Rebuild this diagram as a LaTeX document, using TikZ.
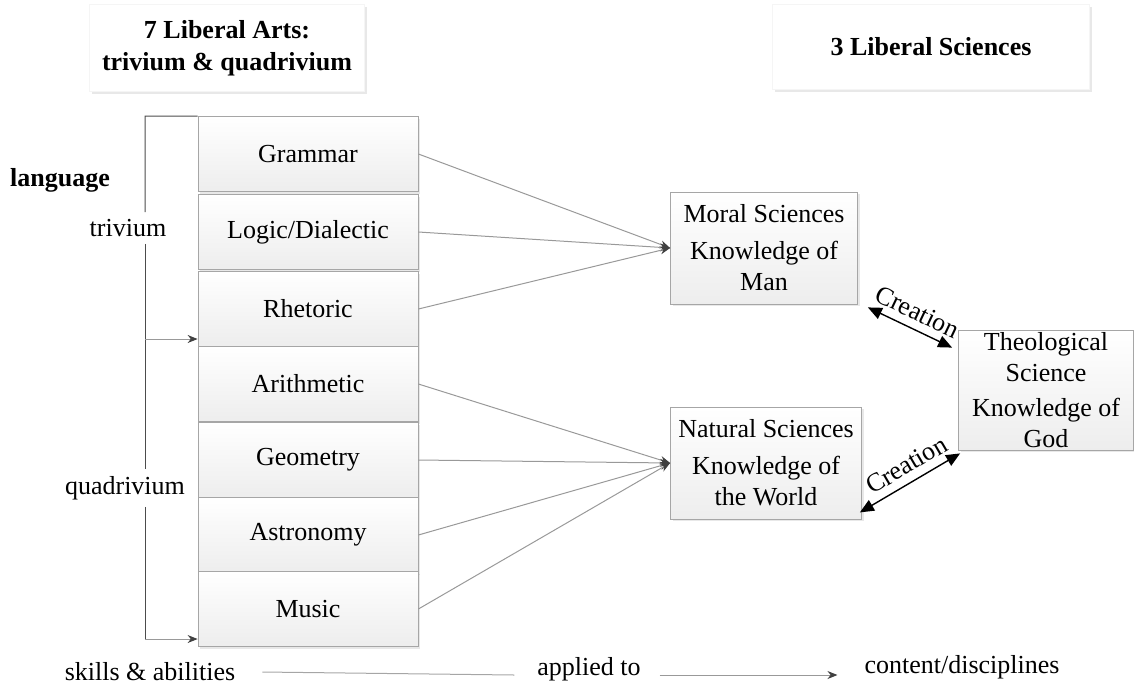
\documentclass[tikz,border=0pt]{standalone}
\usepackage{fontspec}
\setmainfont{Liberation Serif}
\usetikzlibrary{arrows.meta, positioning, shadows}

\begin{document}
\begin{tikzpicture}[
    x=0.5pt, y=-0.5pt,
    every node/.style={font=\fontsize{13}{15.5}\selectfont},
    softshadow/.style={drop shadow={opacity=0.18, shadow xshift=1.2pt, shadow yshift=-1.2pt}},
    artbox/.style={
        rectangle, draw=gray!70, top color=white, bottom color=gray!14,
        minimum width=110pt, minimum height=37.5pt, inner sep=0pt,
        text centered, softshadow
    },
    scibox/.style={
        rectangle, draw=gray!70, top color=white, bottom color=gray!14,
        align=center, inner sep=1pt, softshadow
    },
    headbox/.style={
        rectangle, draw=gray!8, fill=white, align=center,
        font=\fontsize{13}{16}\selectfont\bfseries, softshadow
    },
    feed/.style={draw=gray!80, line width=0.5pt, -{Stealth[length=5pt, width=4pt, color=gray!50!black]}},
    bracket/.style={draw=gray!60!black, line width=0.5pt},
    creat/.style={draw=black, line width=0.7pt, {Triangle[length=7pt, width=6pt]}-{Triangle[length=7pt, width=6pt]}},
]

% ---- fixed frame ----
\useasboundingbox (0,0) rectangle (1134,686);

% ---- headings ----
\node[headbox, minimum width=137.5pt, minimum height=43.5pt] (arts) at (227,48)
      {7 Liberal Arts:\\trivium \& quadrivium};
\node[headbox, minimum width=158.5pt, minimum height=42.5pt] (sci) at (931,47)
      {3 Liberal Sciences};

% ---- the seven arts ----
\node[artbox] (gram)  at (308,154) {Grammar};
\node[artbox] (logic) at (308,232) {Logic/Dialectic};
\node[artbox] (rhet)  at (308,309) {Rhetoric};
\node[artbox] (arith) at (308,384) {Arithmetic};
\node[artbox] (geom)  at (308,460) {Geometry};
\node[artbox] (astro) at (308,535) {Astronomy};
\node[artbox] (music) at (308,609) {Music};

% ---- the sciences ----
\node[scibox, minimum width=93.5pt, minimum height=56pt] (moral) at (764,248)
      {Moral Sciences\\[3pt]Knowledge of\\Man};
\node[scibox, minimum width=95.5pt, minimum height=56pt] (natural) at (766,463)
      {Natural Sciences\\[3pt]Knowledge of\\the World};
\node[scibox, minimum width=87.5pt, minimum height=60pt] (theo) at (1046,390)
      {Theological\\Science\\[2pt]Knowledge of\\God};

% ---- left bracket ----
\node[font=\fontsize{13}{15.5}\selectfont\bfseries] (lang) at (60,180) {language};
\node (triv)  at (128,228) {trivium};
\node (quadr) at (125,488) {quadrivium};
\coordinate (brtop) at (145,116);
\coordinate (brmid) at (145,339);
\coordinate (brbot) at (145,639);
\draw[bracket] (gram.north west) -- (brtop) -- (triv.north -| brtop);
\draw[bracket] (triv.south -| brtop) -- (quadr.north -| brtop);
\draw[bracket] (quadr.south -| brtop) -- (brbot);
\draw[feed] (brmid) -- (brmid -| rhet.west);
\draw[feed] (brbot) -- (brbot -| music.west);

% ---- arts feed the sciences ----
\foreach \a in {gram, logic, rhet}
    \draw[feed] (\a.east) -- (moral.west);
\foreach \a in {arith, geom, astro, music}
    \draw[feed] (\a.east) -- (natural.west);

% ---- creation ----
\draw[creat] ([xshift=5pt, yshift=-1.5pt]moral.south east)
      -- node[above=4pt, sloped, inner sep=0pt] {Creation}
      ([xshift=-3pt, yshift=-9pt]theo.north west);
\draw[creat] ([xshift=-1pt, yshift=3.5pt]natural.south east)
      -- node[above=4pt, sloped, inner sep=0pt, xshift=3pt] {Creation}
      ([xshift=1pt, yshift=-1.5pt]theo.south west);

% ---- bottom line ----
\node (skill) at (150,672) {skills \& abilities};
\node (appl)  at (589,669) {applied to};
\node (cont)  at (962,667) {content/disciplines};
\draw[bracket, gray!70] ([xshift=10pt, yshift=0pt]skill.east) -- ([xshift=-8pt, yshift=-3pt]appl.west);
\draw[feed] ([xshift=6pt, yshift=-3pt]appl.east) -- ([xshift=-10pt, yshift=-4pt]cont.west);

\end{tikzpicture}
\end{document}
